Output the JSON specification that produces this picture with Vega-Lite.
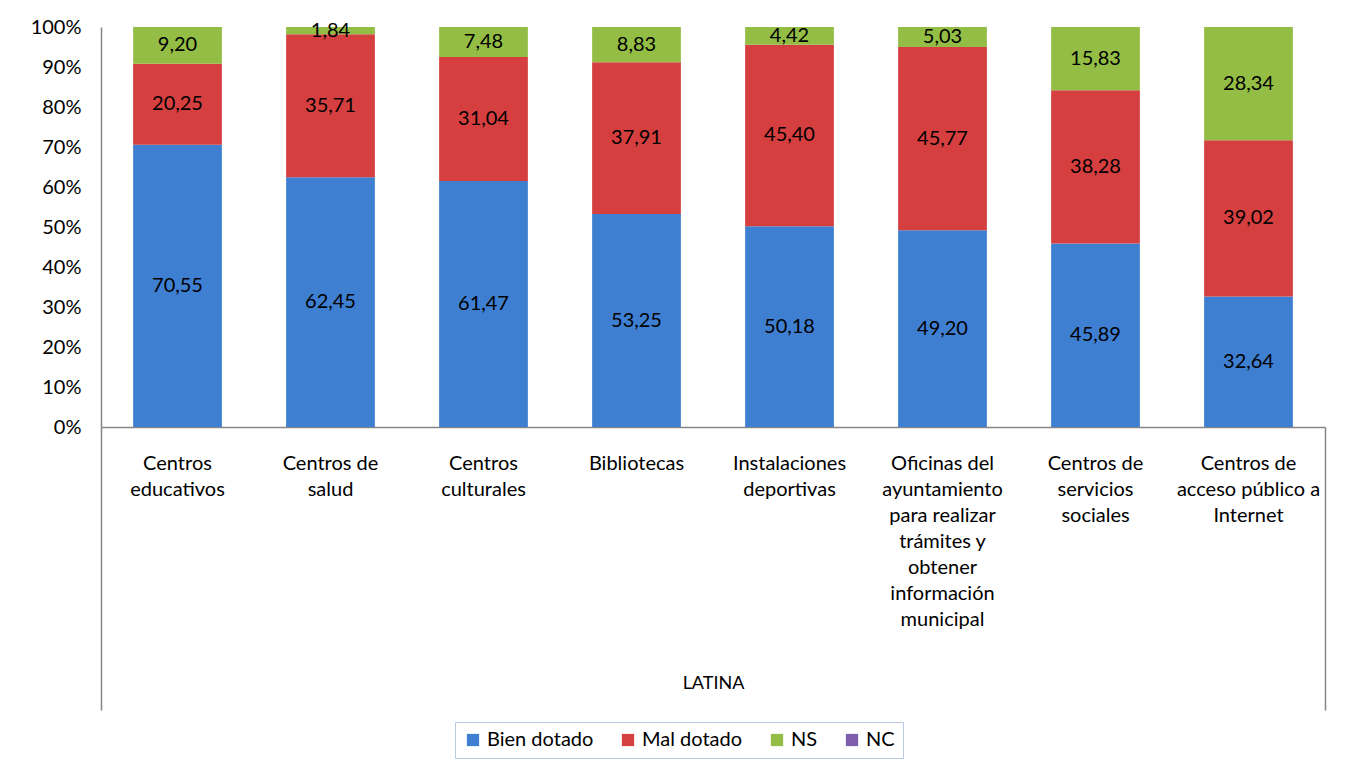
{
  "$schema": "https://vega.github.io/schema/vega-lite/v6.json",
  "width": 1224,
  "height": 400,
  "autosize": "none",
  "padding": {"left": 101, "top": 27, "right": 27, "bottom": 347},
  "background": "white",
  "data": {
    "values": [
      {"grupo": "LATINA", "centro": "Centros educativos", "serie": "Bien dotado", "valor": 70.55},
      {"grupo": "LATINA", "centro": "Centros educativos", "serie": "Mal dotado", "valor": 20.25},
      {"grupo": "LATINA", "centro": "Centros educativos", "serie": "NS", "valor": 9.20},
      {"grupo": "LATINA", "centro": "Centros de salud", "serie": "Bien dotado", "valor": 62.45},
      {"grupo": "LATINA", "centro": "Centros de salud", "serie": "Mal dotado", "valor": 35.71},
      {"grupo": "LATINA", "centro": "Centros de salud", "serie": "NS", "valor": 1.84},
      {"grupo": "LATINA", "centro": "Centros culturales", "serie": "Bien dotado", "valor": 61.47},
      {"grupo": "LATINA", "centro": "Centros culturales", "serie": "Mal dotado", "valor": 31.04},
      {"grupo": "LATINA", "centro": "Centros culturales", "serie": "NS", "valor": 7.48},
      {"grupo": "LATINA", "centro": "Bibliotecas", "serie": "Bien dotado", "valor": 53.25},
      {"grupo": "LATINA", "centro": "Bibliotecas", "serie": "Mal dotado", "valor": 37.91},
      {"grupo": "LATINA", "centro": "Bibliotecas", "serie": "NS", "valor": 8.83},
      {"grupo": "LATINA", "centro": "Instalaciones deportivas", "serie": "Bien dotado", "valor": 50.18},
      {"grupo": "LATINA", "centro": "Instalaciones deportivas", "serie": "Mal dotado", "valor": 45.40},
      {"grupo": "LATINA", "centro": "Instalaciones deportivas", "serie": "NS", "valor": 4.42},
      {"grupo": "LATINA", "centro": "Oficinas del ayuntamiento para realizar trámites y obtener información municipal", "serie": "Bien dotado", "valor": 49.20},
      {"grupo": "LATINA", "centro": "Oficinas del ayuntamiento para realizar trámites y obtener información municipal", "serie": "Mal dotado", "valor": 45.77},
      {"grupo": "LATINA", "centro": "Oficinas del ayuntamiento para realizar trámites y obtener información municipal", "serie": "NS", "valor": 5.03},
      {"grupo": "LATINA", "centro": "Centros de servicios sociales", "serie": "Bien dotado", "valor": 45.89},
      {"grupo": "LATINA", "centro": "Centros de servicios sociales", "serie": "Mal dotado", "valor": 38.28},
      {"grupo": "LATINA", "centro": "Centros de servicios sociales", "serie": "NS", "valor": 15.83},
      {"grupo": "LATINA", "centro": "Centros de acceso público a Internet", "serie": "Bien dotado", "valor": 32.64},
      {"grupo": "LATINA", "centro": "Centros de acceso público a Internet", "serie": "Mal dotado", "valor": 39.02},
      {"grupo": "LATINA", "centro": "Centros de acceso público a Internet", "serie": "NS", "valor": 28.34}
    ]
  },
  "layer": [
    {
      "transform": [
        {"stack": "valor", "groupby": ["centro"], "sort": [{"field": "serie", "order": "ascending"}], "as": ["v0", "v1"]},
        {"calculate": "(datum.v0 + datum.v1) / 2", "as": "mid"}
      ],
      "encoding": {
        "x": {
          "field": "centro",
          "type": "nominal",
          "sort": [
            "Centros educativos",
            "Centros de salud",
            "Centros culturales",
            "Bibliotecas",
            "Instalaciones deportivas",
            "Oficinas del ayuntamiento para realizar trámites y obtener información municipal",
            "Centros de servicios sociales",
            "Centros de acceso público a Internet"
          ],
          "scale": {"paddingInner": 0.42, "paddingOuter": 0.21},
          "axis": {
            "title": null,
            "orient": "bottom",
            "labelAngle": 0,
            "ticks": false,
            "domain": true,
            "domainColor": "#868686",
            "domainWidth": 1.5,
            "labelPadding": 42,
            "labelFontSize": 20,
            "labelColor": "#000000",
            "labelLineHeight": 26,
            "labelOverlap": false,
            "labelLimit": 0,
            "labelBaseline": "alphabetic",
            "labelExpr": "({'Centros educativos': ['Centros', 'educativos'], 'Centros de salud': ['Centros de', 'salud'], 'Centros culturales': ['Centros', 'culturales'], 'Bibliotecas': ['Bibliotecas'], 'Instalaciones deportivas': ['Instalaciones', 'deportivas'], 'Oficinas del ayuntamiento para realizar trámites y obtener información municipal': ['Oficinas del', 'ayuntamiento', 'para realizar', 'trámites y', 'obtener', 'información', 'municipal'], 'Centros de servicios sociales': ['Centros de', 'servicios', 'sociales'], 'Centros de acceso público a Internet': ['Centros de', 'acceso público a', 'Internet']})[datum.value]"
          }
        }
      },
      "layer": [
        {
          "mark": {"type": "bar"},
          "encoding": {
            "y": {
              "field": "v0",
              "type": "quantitative",
              "scale": {"domain": [0, 100], "nice": false},
              "axis": {
                "title": null,
                "values": [0, 10, 20, 30, 40, 50, 60, 70, 80, 90, 100],
                "labelExpr": "datum.value + '%'",
                "labelOverlap": false,
                "labelBound": false,
                "ticks": false,
                "grid": false,
                "domainColor": "#868686",
                "domainWidth": 1.5,
                "labelPadding": 20,
                "labelFontSize": 20,
                "labelColor": "#000000"
              }
            },
            "y2": {"field": "v1"},
            "color": {
              "field": "serie",
              "type": "nominal",
              "scale": {
                "domain": ["Bien dotado", "Mal dotado", "NS", "NC"],
                "range": ["#3f7fd2", "#d53f3f", "#93bd45", "#7d5fae"]
              },
              "legend": {
                "title": null,
                "orient": "none",
                "legendX": 354,
                "legendY": 695,
                "direction": "horizontal",
                "columns": 4,
                "symbolType": "square",
                "symbolSize": 150,
                "symbolStrokeWidth": 0,
                "labelFontSize": 20,
                "labelColor": "#000000",
                "columnPadding": 24,
                "padding": 8,
                "strokeColor": "#b9c9e0",
                "fillColor": "white",
                "labelOffset": 4
              }
            }
          }
        },
        {
          "mark": {"type": "text", "fontSize": 20, "color": "#000000", "baseline": "middle"},
          "encoding": {
            "y": {
              "field": "mid",
              "type": "quantitative",
              "scale": {"domain": [0, 100], "nice": false},
              "axis": {
                "title": null,
                "values": [0, 10, 20, 30, 40, 50, 60, 70, 80, 90, 100],
                "labelExpr": "datum.value + '%'",
                "labelOverlap": false,
                "labelBound": false,
                "ticks": false,
                "grid": false,
                "domainColor": "#868686",
                "domainWidth": 1.5,
                "labelPadding": 20,
                "labelFontSize": 20,
                "labelColor": "#000000"
              }
            },
            "text": {"field": "valor", "type": "quantitative", "format": ".2f"}
          }
        }
      ]
    },
    {
      "mark": {"type": "text"},
      "encoding": {
        "x": {
          "field": "grupo",
          "type": "nominal",
          "scale": {"paddingInner": 0, "paddingOuter": 0},
          "axis": {
            "title": null,
            "orient": "bottom",
            "labelAngle": 0,
            "domain": false,
            "ticks": true,
            "tickBand": "extent",
            "tickSize": 283,
            "tickColor": "#868686",
            "tickWidth": 1.5,
            "labelPadding": -36,
            "labelFontSize": 18,
            "labelColor": "#000000"
          }
        },
        "text": {"value": ""}
      }
    }
  ],
  "resolve": {"scale": {"x": "independent"}, "axis": {"x": "independent"}},
  "config": {
    "font": "Lato",
    "view": {"stroke": null},
    "locale": {"number": {"decimal": ",", "thousands": ".", "grouping": [3], "currency": ["", " €"]}}
  }
}
